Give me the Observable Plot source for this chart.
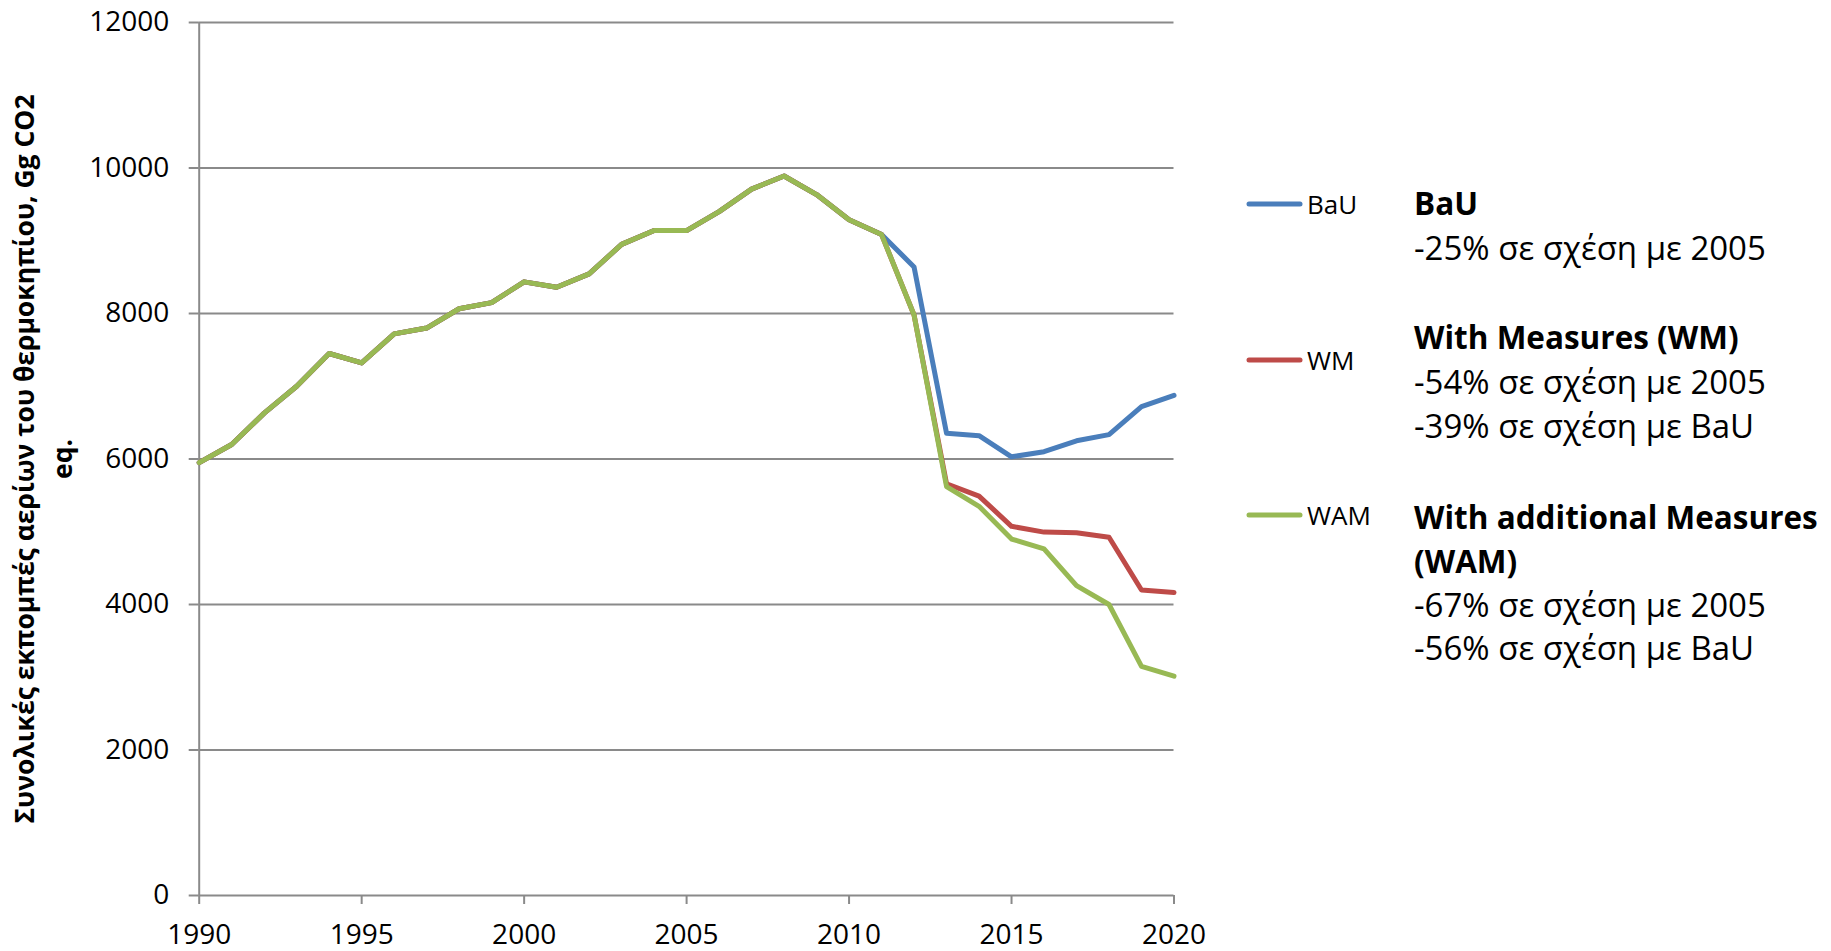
<!DOCTYPE html>
<html><head><meta charset="utf-8">
<script src="https://cdn.jsdelivr.net/npm/d3@7"></script>
<script src="https://cdn.jsdelivr.net/npm/@observablehq/plot@0.6"></script>
<style>
html,body{margin:0;padding:0;background:#fff;}
#wrap{position:relative;width:1831px;height:951px;overflow:hidden;background:#fff;}
#wrap svg{position:absolute;left:0;top:0;}
</style></head><body><div id="wrap"></div>
<script>
// ---- data ----
const histYears = [1990,1991,1992,1993,1994,1995,1996,1997,1998,1999,2000,2001,2002,2003,2004,2005,2006,2007,2008,2009,2010,2011];
const histValues = [5950,6200,6630,7000,7450,7320,7720,7800,8065,8150,8435,8360,8545,8950,9140,9140,9400,9710,9890,9635,9290,9085];
const projYears = [2012,2013,2014,2015,2016,2017,2018,2019,2020];
const bauValues = [8640,6355,6320,6030,6100,6250,6335,6720,6875];
const wmValues  = [7980,5660,5490,5075,4995,4985,4925,4200,4165];
const wamValues = [7980,5620,5350,4900,4765,4260,4000,3150,3015];
const seriesNames = ["BaU","WM","WAM"];
const seriesColors = ["#4a7ebb","#be4b48","#98b954"];
const yTicks = [0,2000,4000,6000,8000,10000,12000];
const xTicks = [1990,1995,2000,2005,2010,2015,2020];
const yTitle = ["Συνολικές εκπομπές αερίων του θερμοκηπίου, Gg CO2", "eq."];
const notes = [
  {bold:true, text:"BaU", y:215},
  {bold:false, text:"-25% σε σχέση με 2005", y:260},
  {bold:true, text:"With Measures (WM)", y:349},
  {bold:false, text:"-54% σε σχέση με 2005", y:394},
  {bold:false, text:"-39% σε σχέση με BaU", y:438},
  {bold:true, text:"With additional Measures", y:529},
  {bold:true, text:"(WAM)", y:573},
  {bold:false, text:"-67% σε σχέση με 2005", y:617},
  {bold:false, text:"-56% σε σχέση με BaU", y:660}
];
const legendY = [204, 360, 515];

// ---- build series ----
function build(name, proj) {
  const rows = histYears.map((yr, i) => ({year: yr, value: histValues[i], series: name}));
  projYears.forEach((yr, i) => rows.push({year: yr, value: proj[i], series: name}));
  return rows;
}
const bau = build("BaU", bauValues);
const wm = build("WM", wmValues);
const wam = build("WAM", wamValues);

const grid = "#8a8a8a";
const font = "'Open Sans', sans-serif";

const chart = Plot.plot({
  width: 1831, height: 951,
  marginLeft: 198.7, marginRight: 657.5, marginTop: 22, marginBottom: 56,
  x: {domain: [1990, 2020]},
  y: {domain: [0, 12000]},
  color: {domain: seriesNames, range: seriesColors},
  style: {fontFamily: font, color: "black", background: "transparent", overflow: "visible"},
  marks: [
    Plot.gridY(yTicks, {stroke: grid, strokeOpacity: 1, strokeWidth: 2}),
    Plot.axisY(yTicks, {tickSize: 10, tickPadding: 20, fontSize: 28, stroke: grid, strokeWidth: 2, fill: "black", label: null, tickFormat: d => String(d)}),
    Plot.ruleX([1990], {stroke: grid, strokeWidth: 2}),
    Plot.axisX(xTicks, {tickSize: 9, tickPadding: 20, fontSize: 28, stroke: grid, strokeWidth: 2, fill: "black", label: null, tickFormat: d => String(d)}),
    Plot.lineY(bau, {x: "year", y: "value", stroke: "series", strokeWidth: 5, strokeLinejoin: "round"}),
    Plot.lineY(wm, {x: "year", y: "value", stroke: "series", strokeWidth: 5, strokeLinejoin: "round"}),
    Plot.lineY(wam, {x: "year", y: "value", stroke: "series", strokeWidth: 5, strokeLinejoin: "round"})
  ]
});
document.getElementById("wrap").appendChild(chart);

// ---- overlay: axis title, legend and notes ----
const ov = d3.select("#wrap").append("svg")
  .attr("width", 1831).attr("height", 951)
  .style("font-family", font);

const tt = ov.append("text")
  .attr("transform", "translate(34,459) rotate(-90)")
  .attr("text-anchor", "middle")
  .attr("font-weight", "bold")
  .attr("font-size", 26.5)
  .attr("fill", "black");
tt.append("tspan").attr("x", 0).attr("y", 0).text(yTitle[0]);
tt.append("tspan").attr("x", 0).attr("y", 38).text(yTitle[1]);

seriesNames.forEach((name, i) => {
  ov.append("line")
    .attr("x1", 1249).attr("x2", 1300)
    .attr("y1", legendY[i]).attr("y2", legendY[i])
    .attr("stroke", seriesColors[i]).attr("stroke-width", 5)
    .attr("stroke-linecap", "round");
  ov.append("text")
    .attr("x", 1307).attr("y", legendY[i] + 9.5)
    .attr("font-size", 26).attr("fill", "black")
    .text(name);
});

notes.forEach(n => {
  ov.append("text")
    .attr("x", 1414).attr("y", n.y)
    .attr("font-size", n.bold ? 31.5 : 33)
    .attr("font-weight", n.bold ? "bold" : "normal")
    .attr("fill", "black")
    .text(n.text);
});
</script>
</body></html>
